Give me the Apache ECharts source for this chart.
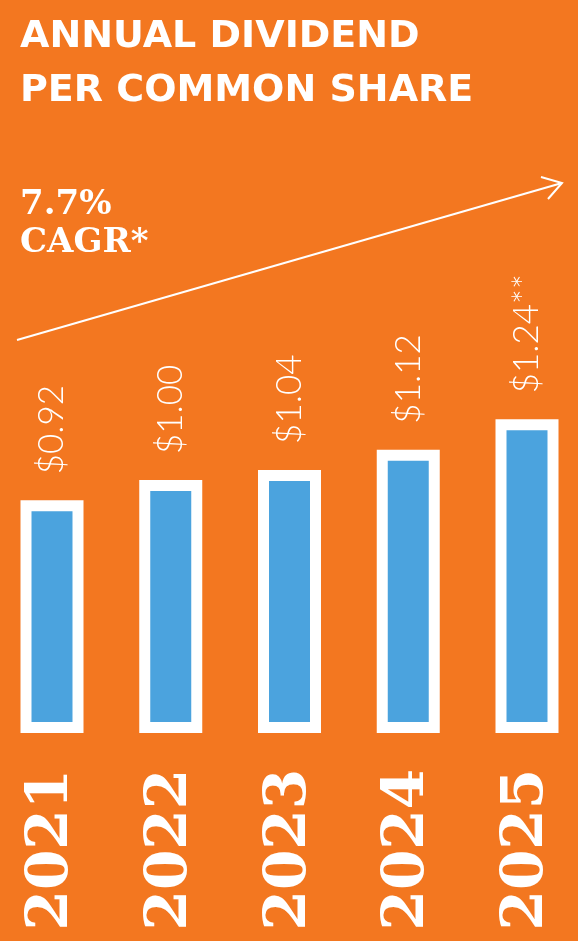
<!DOCTYPE html>
<html><head><meta charset="utf-8">
<script src="https://cdn.jsdelivr.net/npm/echarts@6/dist/echarts.min.js"></script>
<style>html,body{margin:0;padding:0;background:#F37720}#c{width:578px;height:941px}</style>
</head><body><div id="c"></div>
<script>
const years = ['2021','2022','2023','2024','2025'];
const dividends = [0.92, 1.00, 1.04, 1.12, 1.24];
const valueLabels = ['$0.92','$1.00','$1.04','$1.12','$1.24**'];
const titleLines = ['ANNUAL DIVIDEND','PER COMMON SHARE'];
const cagrText = ['7.7%','CAGR*'];

const chart = echarts.init(document.getElementById('c'));
chart.setOption({
  backgroundColor:'#F37720',
  grid:{left:52,width:475,top:227,height:506},
  xAxis:{type:'category',boundaryGap:false,data:years,axisLine:{show:false},axisTick:{show:false},
    axisLabel:{rotate:90,margin:36,color:'#fff',fontSize:58,fontWeight:'bold',fontFamily:'DejaVu Serif'}},
  yAxis:{type:'value',min:0,max:2,show:false,splitLine:{show:false}},
  series:[{type:'bar',data:dividends,barWidth:63,
    itemStyle:{color:'#4BA3DE',borderColor:'#fff',borderWidth:11},
    label:{show:true,position:'top',rotate:90,align:'left',verticalAlign:'middle',distance:26,
      color:'#fff',fontSize:35,fontFamily:'Lato',fontWeight:300,
      formatter:p=>valueLabels[p.dataIndex]}}],
  graphic:[
    {type:'text',left:20,top:10,style:{text:titleLines.join('\n'),fill:'#fff',font:'bold 38px "DejaVu Sans"',lineHeight:54}},
    {type:'text',left:20,top:186,style:{text:cagrText.join('\n'),fill:'#fff',font:'bold 34px "DejaVu Serif"',lineHeight:38}},
    {type:'line',shape:{x1:17,y1:340,x2:562,y2:183},style:{stroke:'#fff',lineWidth:2}},
    {type:'polyline',shape:{points:[[541,177],[562,183],[548,199]]},style:{stroke:'#fff',lineWidth:2,fill:null}}
  ]
});
</script></body></html>
